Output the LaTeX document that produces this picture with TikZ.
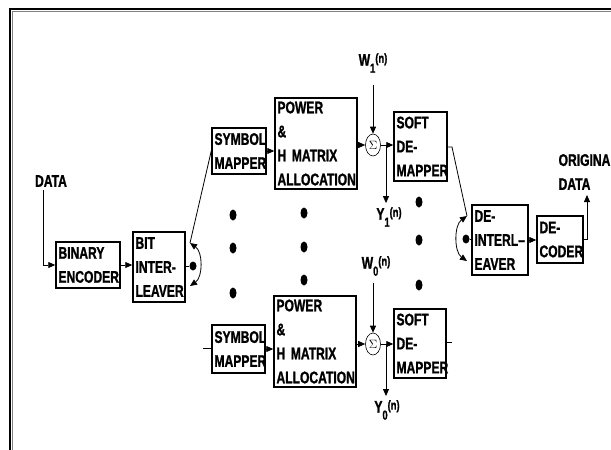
\documentclass[tikz,border=0pt]{standalone}
\usepackage{fontspec}
\setmainfont{Liberation Sans}[FakeStretch=0.72,WordSpace=0.72,BoldFeatures={FakeBold=1.2}]
\usetikzlibrary{shapes.geometric,arrows.meta,positioning,calc}
\newcommand{\idx}[3]{#1\raisebox{-7pt}{\fontsize{13}{13}\selectfont #2}\raisebox{3pt}{\fontsize{13}{13}\selectfont #3}}

\begin{document}
\begin{tikzpicture}[x=1pt,y=-1pt,
  font=\fontsize{16.8}{24}\selectfont\bfseries,
  blk/.style 2 args={draw,line width=1.5pt,align=left,inner xsep=2.5pt,inner ysep=0pt,
                     text width=#1,minimum height=#2},
  sum/.style={draw,ellipse,line width=0.6pt,minimum width=15pt,minimum height=22pt,
              inner sep=0pt,font=\fontsize{12}{12}\selectfont},
  blob/.style={ellipse,fill=black,minimum width=7pt,minimum height=11pt,inner sep=0pt},
  lbl/.style={inner sep=0pt,align=left},
  flow/.style={-{Triangle[length=7pt,width=6pt]},line width=0.8pt},
  wire/.style={line width=0.8pt},
  swing/.style={{Triangle[length=7pt,width=6pt]}-{Triangle[length=7pt,width=6pt]},line width=0.8pt},
]
  \useasboundingbox (0,0) rectangle (611,450);
  % frame
  \draw[line width=2pt] (10,450) -- (10,9) -- (611,9);
  \draw[gray,line width=0.8pt] (12,450) -- (12,11) -- (611,11);

  % transmitter
  \node[lbl] (din) at (51,181) {DATA};
  \node[blk={59pt}{46pt}] (enc) at (88,265) {BINARY\\ENCODER};
  \node[blk={47pt}{70pt}] (bit) at (159,267) {BIT\\INTER-\\LEAVER};
  \node[blob,minimum height=9pt] (sw1) at (193,266) {};
  \node[blk={49pt}{46pt}] (sm1) at (239,151) {SYMBOL\\MAPPER};
  \node[blk={77pt}{91pt}] (pw1) at (316,143.5) {POWER\\\&\\H MATRIX\\ALLOCATION};
  \node[sum] (s1) at (373,145) {$\Sigma$};
  \node[blk={48pt}{69pt}] (sd1) at (420.5,146.5) {SOFT\\DE-\\MAPPER};
  \node[blk={48pt}{48pt}] (sm2) at (238.5,349) {SYMBOL\\MAPPER};
  \node[blk={77pt}{91pt}] (pw2) at (315,341.5) {POWER\\\&\\H MATRIX\\ALLOCATION};
  \node[sum] (s2) at (373,344) {$\Sigma$};
  \node[blk={47pt}{69pt}] (sd2) at (420,343.5) {SOFT\\DE-\\MAPPER};

  % receiver
  \node[blob,minimum height=9pt] (sw2) at (466,239) {};
  \node[blk={51pt}{70pt}] (dil) at (500,240) {DE-\\INTERL–\\EAVER};
  \node[blk={41pt}{47pt}] (dec) at (560,239.5) {DE-\\CODER};
  \node[lbl] (dout) at (584.5,172) {ORIGINA\\DATA};

  % noise and outputs
  \node[lbl] (w1) at (373,63) {\idx{W}{1}{(n)}};
  \node[lbl] (y1) at (389,217) {\idx{Y}{1}{(n)}};
  \node[lbl] (w0) at (376,266) {\idx{W}{0}{(n)}};
  \node[lbl] (y0) at (387,410) {\idx{Y}{0}{(n)}};

  % dots
  \node[blob] (d1) at (233,215) {};
  \node[blob] (d2) at (233,248) {};
  \node[blob] (d3) at (233,293) {};
  \node[blob] (d4) at (304,213) {};
  \node[blob] (d5) at (304,247) {};
  \node[blob] (d6) at (304,280) {};
  \node[blob] (d7) at (419,202) {};
  \node[blob] (d8) at (419,240) {};
  \node[blob] (d9) at (419,285) {};

  \coordinate (dtop) at (43,190);
  \coordinate (sw1a) at (190,243);
  \coordinate (sw1b) at (190,286);
  \coordinate (w1top) at (373,85);
  \coordinate (br1) at (386,145);
  \coordinate (k1) at (452,147);
  \coordinate (sw2a) at (467,216);
  \coordinate (sw2b) at (467,261);
  \coordinate (otop) at (587,195);
  \coordinate (in2) at (203,348);
  \coordinate (w0top) at (373,283);
  \coordinate (br2) at (386,344);
  \coordinate (out2) at (452,342);

  \draw[flow] (dtop) |- (enc.west);
  \draw[flow] (enc.east) -- (enc.east -| bit.west);
  \draw[wire] (bit.east |- sw1) -- (sw1);
  \draw[swing] (sw1a) .. controls (203,252) and (203,277) .. (sw1b);
  \draw[wire] (sw1a) -- (sm1.west);
  \draw[flow] (sm1.east) -- (sm1.east -| pw1.west);
  \draw[flow] (pw1.east |- s1) -- (s1.west);
  \draw[flow] (w1top) -- (s1.north);
  \draw[flow] (s1.east) -- (s1.east -| sd1.west);
  \draw[flow,shorten >=4pt] (br1) -- (br1 |- y1.north);
  \draw[wire] (sd1.east |- k1) -- (k1) -- (sw2a);
  \draw[swing] (sw2a) .. controls (454,225) and (454,252) .. (sw2b);
  \draw[wire] (sw2) -- (sw2 -| dil.west);
  \draw[flow] (dil.east) -- (dil.east -| dec.west);
  \draw[flow] (dec.east) -| (otop);

  \draw[wire] (in2) -- (in2 -| sm2.west);
  \draw[flow] (sm2.east) -- (sm2.east -| pw2.west);
  \draw[flow] (pw2.east |- s2) -- (s2.west);
  \draw[flow] (w0top) -- (s2.north);
  \draw[flow] (s2.east) -- (s2.east -| sd2.west);
  \draw[flow,shorten >=4pt] (br2) -- (br2 |- y0.north);
  \draw[wire] (sd2.east |- out2) -- (out2);
\end{tikzpicture}
\end{document}
